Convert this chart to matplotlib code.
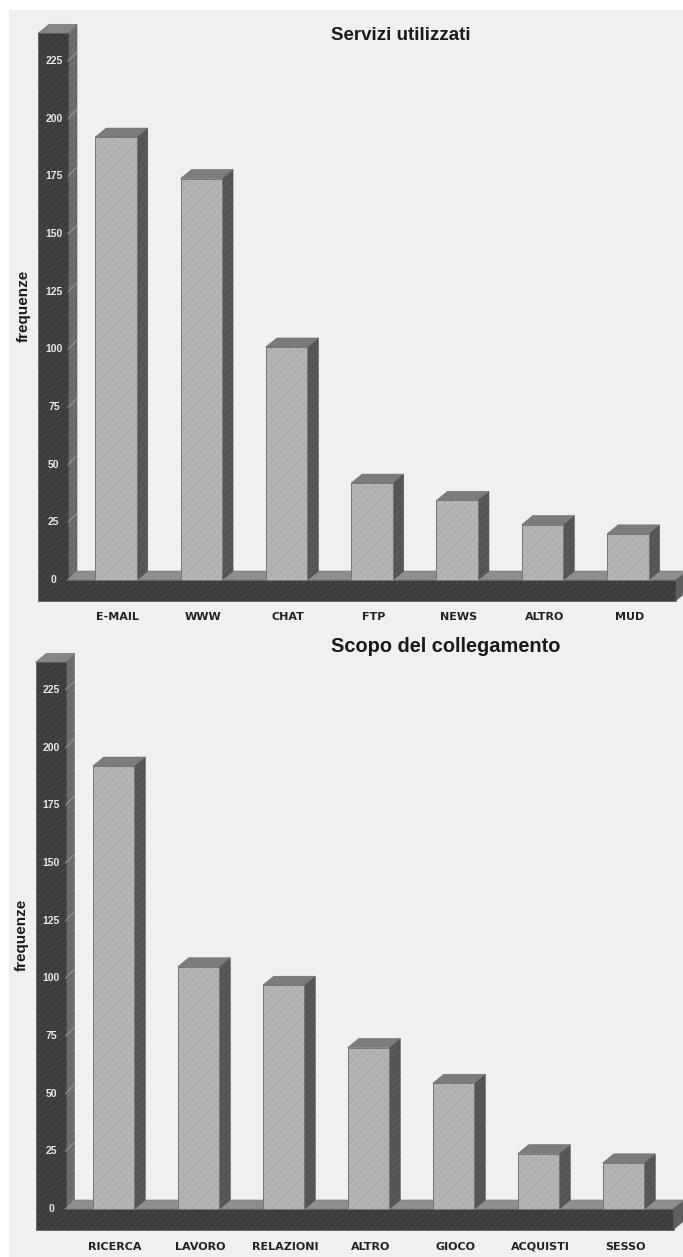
import matplotlib
matplotlib.use("Agg")
import matplotlib.pyplot as plt
from matplotlib.patches import Rectangle

plt.rcParams['font.family'] = ['Liberation Sans', 'DejaVu Sans']
plt.rcParams['hatch.linewidth'] = 0.5

W, H = 683, 1257

tick_values = [0, 25, 50, 75, 100, 125, 150, 175, 200, 225]

title_top = "Servizi utilizzati"
cats_top = ["E-MAIL", "WWW", "CHAT", "FTP", "NEWS", "ALTRO", "MUD"]
vals_top = [192, 174, 101, 42, 34.5, 24, 20]

title_bottom = "Scopo del collegamento"
cats_bottom = ["RICERCA", "LAVORO", "RELAZIONI", "ALTRO", "GIOCO", "ACQUISTI", "SESSO"]
vals_bottom = [192, 105, 97, 70, 54.5, 24, 20]

SCALE = 2.307     # px per unit of frequency
DY = 9 / SCALE    # depth of the 3d boxes


def draw_chart(fig, cats, vals, title, first_x, pitch, zero_y, top_y, bottom_y, title_xy, title_size):
    # axes span the full width, so 1 x unit = one category and 1 y unit = one count
    ax = fig.add_axes([0, 1 - bottom_y / H, 1, (bottom_y - top_y) / H])
    ax.set_xlim(-first_x / pitch, (W - first_x) / pitch)
    ax.set_ylim((zero_y - bottom_y) / SCALE, (zero_y - top_y) / SCALE)
    ax.axis('off')

    px = lambda p: (p - first_x) / pitch
    dx = 11 / pitch
    wall_dx = 9 / pitch
    bar_w = 41.5 / pitch
    wall_l, wall_r = px(first_x - 78), px(first_x - 48)
    wall_top = 237
    base_low = -20.5 / SCALE
    base_r = px(first_x + 560)

    # floor
    ax.fill([wall_r, wall_r + wall_dx, base_r + dx, base_r], [0, DY, DY, 0],
            facecolor='#8e8e8e', edgecolor='#777777', lw=0.4, zorder=1)
    # wall side and top
    ax.fill([wall_r, wall_r + wall_dx, wall_r + wall_dx, wall_r], [0, DY, wall_top + DY, wall_top],
            facecolor='#6e6e6e', edgecolor='#5e5e5e', hatch='/////', lw=0.4, zorder=1)
    ax.fill([wall_l, wall_l + dx, wall_r + wall_dx, wall_r],
            [wall_top, wall_top + DY, wall_top + DY, wall_top],
            facecolor='#858585', edgecolor='#777777', lw=0.4, zorder=1)
    # wall front and base front
    ax.fill([wall_l, wall_r, wall_r, base_r, base_r, wall_l],
            [wall_top, wall_top, 0, 0, base_low, base_low],
            facecolor='#3c3c3c', edgecolor='#4e4e4e', hatch='/////', lw=0.4, zorder=2)
    ax.fill([base_r, base_r + dx, base_r + dx, base_r],
            [base_low, base_low + DY, DY, 0], facecolor='#5e5e5e', edgecolor='#5e5e5e', lw=0.4, zorder=2)

    for t in tick_values:
        ax.plot([wall_r, wall_r + wall_dx], [t, t + DY], color='#9a9a9a', lw=0.7, zorder=3)
        ax.text((wall_l + wall_r) / 2 + 0.01, t, str(t), color='#e8e8e8', fontsize=7.5,
                family=['Liberation Sans Narrow', 'Liberation Sans'], fontweight='bold',
                ha='center', va='center', zorder=4)

    for i, (cat, v) in enumerate(zip(cats, vals)):
        l, r = i - bar_w / 2, i + bar_w / 2
        ax.fill([r, r + dx, r + dx, r], [0, DY, v + DY, v],
                facecolor='#585858', edgecolor='#4c4c4c', hatch='/////', lw=0.4, zorder=5)
        ax.fill([l, l + dx, r + dx, r], [v, v + DY, v + DY, v],
                facecolor='#7c7c7c', edgecolor='#6a6a6a', lw=0.4, zorder=5)
        ax.bar(i, v, width=bar_w, color='#b4b4b4', edgecolor='#a6a6a6', lw=0,
               hatch='/////', zorder=6)
        ax.plot([l, l, r, r, l], [0, v, v, 0, 0], color='#777777', lw=0.7, zorder=7)
        ax.text(i + 0.02, -40.5 / SCALE, cat, color='#222222', fontsize=8, fontweight='bold',
                family=['DejaVu Sans'], ha='center', va='baseline', zorder=8)

    ax.text(px(first_x - 92), 119, 'frequenze', rotation=90, color='#1a1a1a', fontsize=11,
            fontweight='bold', ha='center', va='center')
    fig.text(title_xy[0] / W, 1 - title_xy[1] / H, title, color='#1a1a1a', fontsize=title_size,
             fontweight='bold', ha='center', va='center')


fig = plt.figure(figsize=(W / 100, H / 100), dpi=100, facecolor='white')
fig.patches.append(Rectangle((9 / W, 0), 1 - 9 / W, 1 - 10 / H, transform=fig.transFigure,
                             facecolor='#f0f0f0', edgecolor='none', zorder=-5))

draw_chart(fig, cats_top, vals_top, title_top, 116, 85.3, 580, 10, 625, (401, 35), 13.5)
draw_chart(fig, cats_bottom, vals_bottom, title_bottom, 113.5, 85.0, 1209, 640, 1257, (446, 646), 14.4)

fig.savefig("out.png", dpi=100)
